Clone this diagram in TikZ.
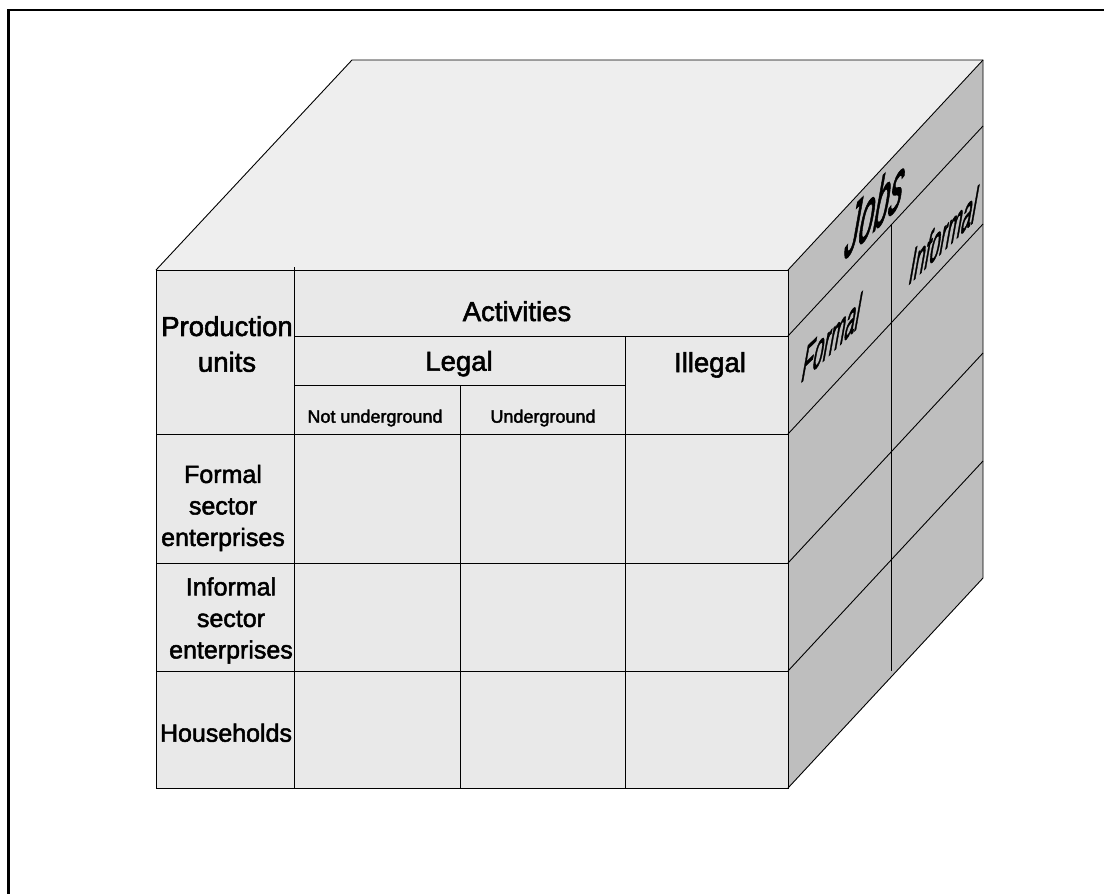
\documentclass[tikz,border=0pt]{standalone}
\usepackage{fontspec}
\setmainfont{Liberation Sans}[FakeBold=2]
\usepackage{tikz}
\usetikzlibrary{calc}
\definecolor{topface}{HTML}{EEEEEE}
\definecolor{frontface}{HTML}{E9E9E9}
\definecolor{sideface}{HTML}{BEBEBE}

\begin{document}
\begin{tikzpicture}[x=1pt,y=-1pt,
    grid/.style={draw=black,line width=0.9pt},
    head/.style={font=\fontsize{27.5}{35.7}\selectfont,inner sep=0pt,align=center},
    rowlab/.style={font=\fontsize{25}{31.5}\selectfont,inner sep=0pt,align=center},
    small/.style={font=\fontsize{18}{22}\selectfont,inner sep=0pt},
    side/.style={transform shape,inner sep=0pt}]
    \useasboundingbox(0,0) rectangle (1104,894);
    \draw[line width=2.5pt](8.5,894)|-(1104,10);

    % the three faces of the cube
    \fill[topface](156,270)--(352,60)--(983,60)--(788,270)--cycle;
    \fill[sideface](788,270)--(983,60)--(983,578)--(788,788)--cycle;
    \fill[frontface](156,270) rectangle (788,788);

    \draw[grid](156,270)--(352,60)--(983,60)--(983,578)--(788,788);
    \draw[grid](788,270)--(983,60);
    \draw[grid](156,270) rectangle (788,788);

    % front table
    \foreach \y in {434,563,671}
        \draw[grid](156,\y)--(788,\y);
    \draw[grid](294,267)--(294,788);
    \draw[grid](294,336)--(788,336);
    \draw[grid](294,385)--(625,385);
    \draw[grid](625,336)--(625,788);
    \draw[grid](460,385)--(460,788);

    % side face
    \foreach \y in {336,434,563,671}
        \draw[grid](788,\y)--++(195,-210);
    \draw[grid](891,225)--(891,671);

    \node[head](produnits) at (227,344) {Production\\units};
    \node[head,anchor=base](activities) at (517,321) {Activities};
    \node[head,anchor=base](legal) at (459,370.7) {Legal};
    \node[head,anchor=base](illegal) at (710,372) {Illegal};
    \node[small,anchor=base](notunder) at (375,422.7) {Not underground};
    \node[small,anchor=base](under) at (543,422.7) {Underground};

    \node[rowlab](formalent) at (223,508) {Formal\\sector\\enterprises};
    \node[rowlab](informalent) at (231,620.5) {Informal\\sector\\enterprises};
    \node[rowlab,anchor=base](households) at (226,741.7) {Households};

    % slanted labels on the side face
    \begin{scope}[shift={(876,206)},cm={0.737,0.712,0.376,2.133,(0,0)}]
        \node[side,font=\fontsize{37}{44}\selectfont](jobs) {Jobs};
    \end{scope}
    \begin{scope}[shift={(832,337)},cm={0.737,0.712,0.376,2.133,(0,0)}]
        \node[side,font=\fontsize{25}{30}\selectfont](jformal) {Formal};
    \end{scope}
    \begin{scope}[shift={(944,235)},cm={0.737,0.712,0.376,2.133,(0,0)}]
        \node[side,font=\fontsize{25}{30}\selectfont](jinformal) {Informal};
    \end{scope}
\end{tikzpicture}
\end{document}
